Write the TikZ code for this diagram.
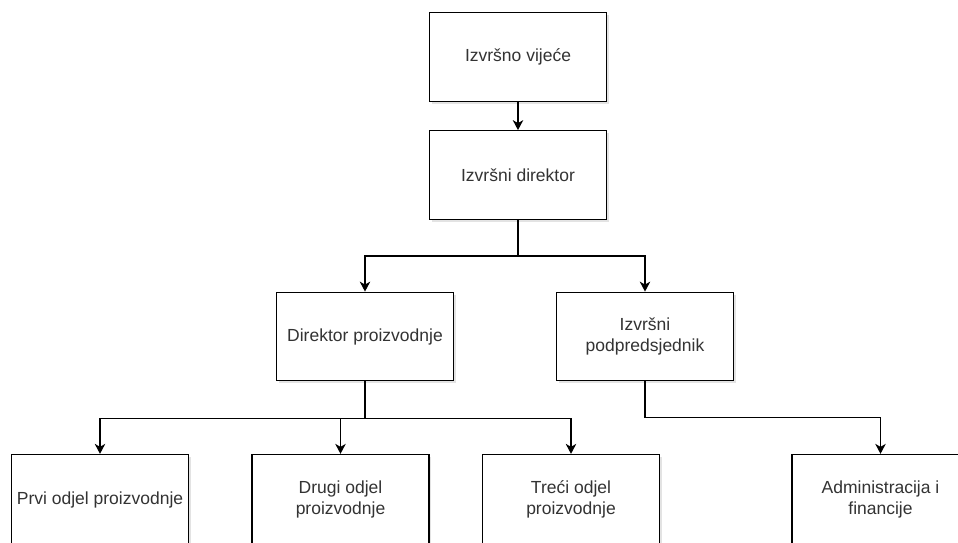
\documentclass[tikz,border=0pt]{standalone}
\usepackage{fontspec}
\setmainfont{Liberation Sans}
\usetikzlibrary{arrows.meta,shadows}
\definecolor{txt}{HTML}{333333}
\tikzset{
  box/.style={draw=black, line width=1.3pt, fill=white, minimum width=177pt, minimum height=88.5pt,
    align=center, inner sep=2pt, text=txt, font=\fontsize{17.5}{20.8}\selectfont,
    drop shadow={shadow xshift=2pt, shadow yshift=-2.5pt, opacity=0.22, fill=gray}},
  lowbox/.style={box, minimum height=90pt},
  arr/.style={line width=1.3pt, draw=black, -{Stealth[length=10pt,width=10.5pt,inset=3pt]}},
}
\begin{document}
\begin{tikzpicture}[x=1pt,y=-1pt]
\useasboundingbox (0,0) rectangle (958,542);
\node[box] (top) at (518,57) {Izvršno vijeće};
\node[box] (dir) at (518,175) {Izvršni direktor};
\node[box] (prod) at (365,336.5) {Direktor proizvodnje};
\node[box] (vp) at (645,336.5) {Izvršni\\podpredsjednik};
\node[lowbox] (b1) at (100,499.5) {Prvi odjel proizvodnje};
\node[lowbox] (b2) at (340.5,499.5) {Drugi odjel\\proizvodnje};
\node[lowbox] (b3) at (571,499.5) {Treći odjel\\proizvodnje};
\node[lowbox] (b4) at (880.5,499.5) {Administracija i\\financije};
\draw[arr] (top.south) -- (dir.north);
\draw[arr] (dir.south) -- ++(0,36) -| (prod.north);
\draw[arr] (dir.south) -- ++(0,36) -| (vp.north);
\draw[arr] (prod.south) -- ++(0,37) -| (b1.north);
\draw[arr] (prod.south) -- ++(0,37) -| (b2.north);
\draw[arr] (prod.south) -- ++(0,37) -| (b3.north);
\draw[arr] (vp.south) -- ++(0,36) -| (b4.north);
\end{tikzpicture}
\end{document}
